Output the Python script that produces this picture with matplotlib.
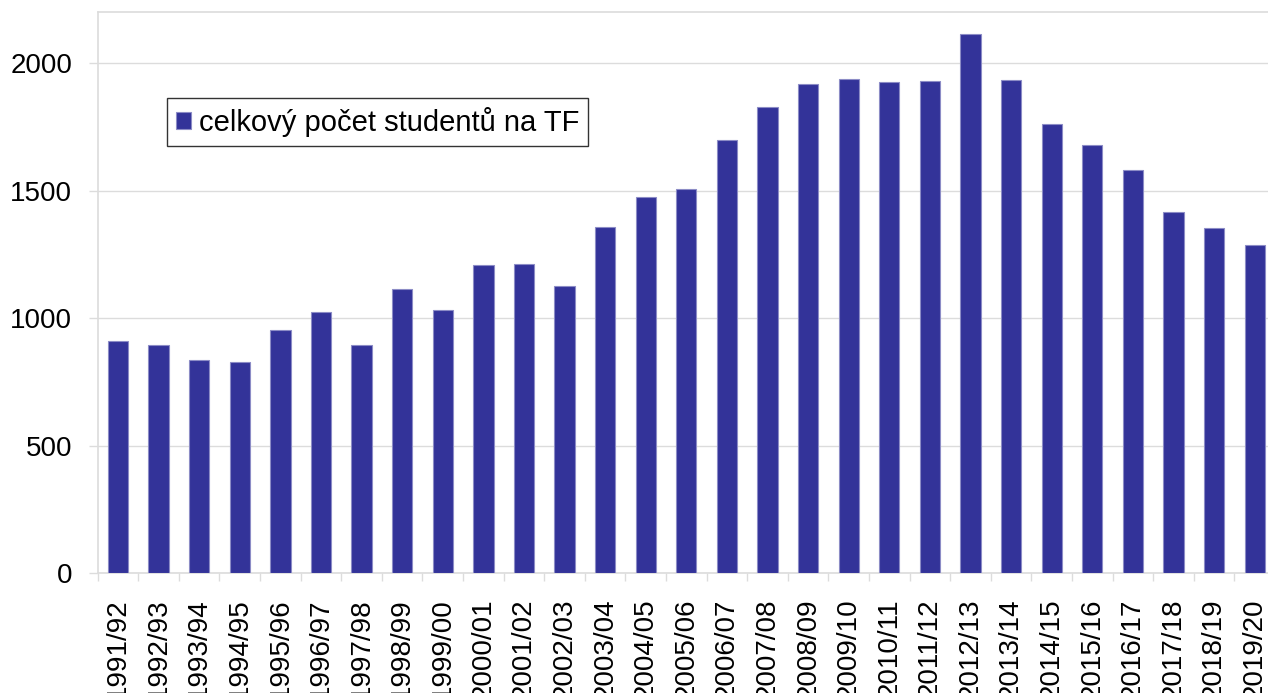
import matplotlib
matplotlib.use("Agg")
import matplotlib.pyplot as plt
import numpy as np

plt.rcParams['font.family'] = ['Liberation Sans', 'DejaVu Sans']

years = ["1991/92", "1992/93", "1993/94", "1994/95", "1995/96", "1996/97",
         "1997/98", "1998/99", "1999/00", "2000/01", "2001/02", "2002/03",
         "2003/04", "2004/05", "2005/06", "2006/07", "2007/08", "2008/09",
         "2009/10", "2010/11", "2011/12", "2012/13", "2013/14", "2014/15",
         "2015/16", "2016/17", "2017/18", "2018/19", "2019/20"]
students = [910, 894, 835, 830, 953, 1025, 894, 1114, 1033, 1209, 1213, 1127,
            1357, 1476, 1506, 1698, 1827, 1919, 1937, 1927, 1929, 2115, 1935,
            1762, 1678, 1582, 1417, 1355, 1289]
series_label = "celkový počet studentů na TF"
y_ticks = [0, 500, 1000, 1500, 2000]

W, H = 1268, 693
fig = plt.figure(figsize=(W / 100, H / 100), dpi=100)
left, right, top, bottom = 97.7, 1275.0, 12.3, 573.3
ax = fig.add_axes([left / W, 1 - bottom / H, (right - left) / W, (bottom - top) / H])

grid_col = "#dcdcdc"
bar_col = "#333399"

x = np.arange(len(years))
ax.bar(x, students, width=0.5, color=bar_col, edgecolor="#8c8cc6",
       linewidth=0.8, label=series_label, zorder=3)

ax.set_xlim(-0.5, len(years) - 0.5)
ax.set_ylim(0, 2200)

ax.set_yticks(y_ticks)
ax.set_yticklabels([str(v) for v in y_ticks])
ax.yaxis.grid(True, color=grid_col, linewidth=1.0, zorder=0)
ax.set_axisbelow(True)

ax.set_xticks(x)
ax.set_xticklabels(years, rotation=90, va="top", ha="center")
ax.set_xticks(np.arange(len(years) + 1) - 0.5, minor=True)
ax.tick_params(axis="x", which="major", length=0, pad=18, labelsize=20)
ax.tick_params(axis="x", which="minor", length=6, width=1.0, color=grid_col)
ax.tick_params(axis="y", length=6.5, width=1.0, color=grid_col, pad=12, labelsize=20)

for side in ["left", "bottom", "top", "right"]:
    ax.spines[side].set_color(grid_col)
    ax.spines[side].set_linewidth(1.2)

leg = ax.legend(loc="upper left", bbox_to_anchor=(167.3 / W, 1 - 98.3 / H),
                bbox_transform=fig.transFigure, borderaxespad=0,
                fontsize=21, frameon=True, fancybox=False, edgecolor="black",
                handlelength=0.52, handleheight=0.52, handletextpad=0.25,
                borderpad=0.3)
leg.get_frame().set_linewidth(1.0)

fig.savefig("out.png", dpi=100)
